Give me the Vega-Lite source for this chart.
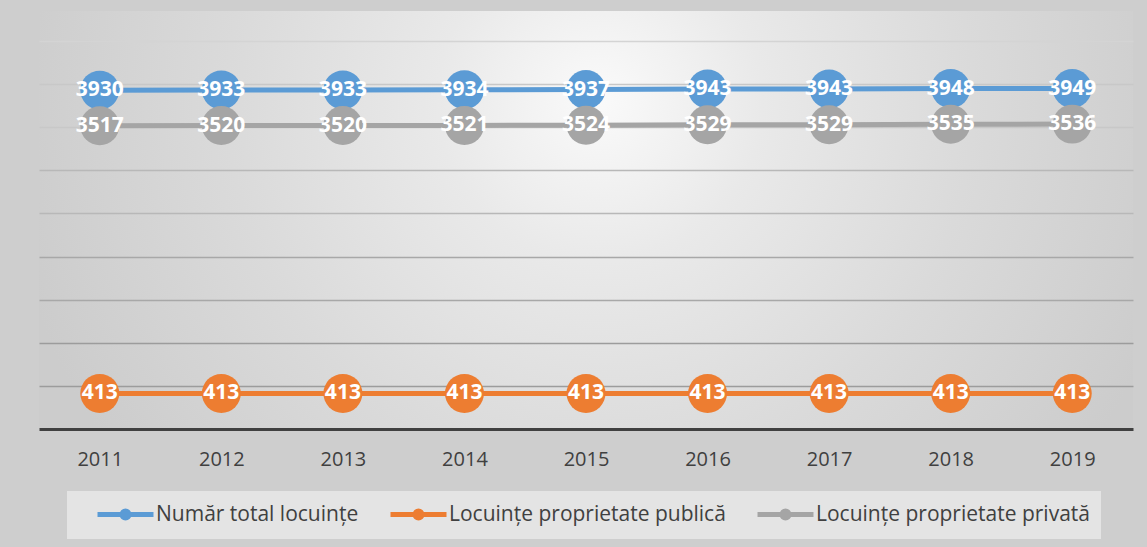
{
  "$schema": "https://vega.github.io/schema/vega-lite/v6.json",
  "width": 1094,
  "height": 418,
  "autosize": {"type": "none"},
  "padding": {"left": 39, "top": 11, "right": 14, "bottom": 118},
  "background": "#cecece",
  "config": {
    "font": "Open Sans",
    "view": {
      "stroke": null,
      "fill": {
        "gradient": "radial",
        "x1": 0.513, "y1": 0.39, "r1": 0,
        "x2": 0.513, "y2": 0.39, "r2": 0.55,
        "stops": [
          {"offset": 0, "color": "#fafafa"},
          {"offset": 0.27, "color": "#e9e9e9"},
          {"offset": 0.62, "color": "#dadada"},
          {"offset": 1, "color": "#cccccc"}
        ]
      }
    }
  },
  "data": {
    "values": [
      {"year": "2011", "series": "Număr total locuințe", "value": 3930},
      {"year": "2012", "series": "Număr total locuințe", "value": 3933},
      {"year": "2013", "series": "Număr total locuințe", "value": 3933},
      {"year": "2014", "series": "Număr total locuințe", "value": 3934},
      {"year": "2015", "series": "Număr total locuințe", "value": 3937},
      {"year": "2016", "series": "Număr total locuințe", "value": 3943},
      {"year": "2017", "series": "Număr total locuințe", "value": 3943},
      {"year": "2018", "series": "Număr total locuințe", "value": 3948},
      {"year": "2019", "series": "Număr total locuințe", "value": 3949},
      {"year": "2011", "series": "Locuințe proprietate publică", "value": 413},
      {"year": "2012", "series": "Locuințe proprietate publică", "value": 413},
      {"year": "2013", "series": "Locuințe proprietate publică", "value": 413},
      {"year": "2014", "series": "Locuințe proprietate publică", "value": 413},
      {"year": "2015", "series": "Locuințe proprietate publică", "value": 413},
      {"year": "2016", "series": "Locuințe proprietate publică", "value": 413},
      {"year": "2017", "series": "Locuințe proprietate publică", "value": 413},
      {"year": "2018", "series": "Locuințe proprietate publică", "value": 413},
      {"year": "2019", "series": "Locuințe proprietate publică", "value": 413},
      {"year": "2011", "series": "Locuințe proprietate privată", "value": 3517},
      {"year": "2012", "series": "Locuințe proprietate privată", "value": 3520},
      {"year": "2013", "series": "Locuințe proprietate privată", "value": 3520},
      {"year": "2014", "series": "Locuințe proprietate privată", "value": 3521},
      {"year": "2015", "series": "Locuințe proprietate privată", "value": 3524},
      {"year": "2016", "series": "Locuințe proprietate privată", "value": 3529},
      {"year": "2017", "series": "Locuințe proprietate privată", "value": 3529},
      {"year": "2018", "series": "Locuințe proprietate privată", "value": 3535},
      {"year": "2019", "series": "Locuințe proprietate privată", "value": 3536}
    ]
  },
  "encoding": {
    "x": {
      "field": "year",
      "type": "ordinal",
      "title": null,
      "axis": {
        "labelAngle": 0,
        "labelFontSize": 20,
        "labelColor": "#404040",
        "labelPadding": 20,
        "ticks": false,
        "domainColor": "#404040",
        "domainWidth": 3,
        "grid": false
      }
    },
    "y": {
      "field": "value",
      "type": "quantitative",
      "title": null,
      "scale": {"domain": [0, 4848], "nice": false},
      "axis": {
        "values": [500, 1000, 1500, 2000, 2500, 3000, 3500, 4000, 4500],
        "labels": false,
        "ticks": false,
        "domain": false,
        "grid": true,
        "gridWidth": 1.5,
        "gridColor": {
          "condition": [
            {"test": "datum.value <= 1000", "value": "#9c9c9c"},
            {"test": "datum.value <= 2000", "value": "#a8a8a8"},
            {"test": "datum.value <= 3000", "value": "#b8b8b8"},
            {"test": "datum.value <= 4000", "value": "#c8c8c8"}
          ],
          "value": "#d4d4d4"
        }
      }
    },
    "color": {
      "field": "series",
      "type": "nominal",
      "scale": {
        "domain": ["Număr total locuințe", "Locuințe proprietate publică", "Locuințe proprietate privată"],
        "range": ["#5B9BD5", "#ED7D31", "#A5A5A5"]
      },
      "legend": {
        "title": null,
        "orient": "none",
        "legendX": 28,
        "legendY": 480,
        "direction": "horizontal",
        "fillColor": "#e4e4e4",
        "padding": 11,
        "labelFontSize": 21,
        "labelLimit": 600,
        "labelColor": "#404040",
        "labelOffset": 53,
        "columnPadding": 12,
        "symbolType": "M0.7,0H6.3M3.85,0A0.35,0.35,0,1,1,3.15,0A0.35,0.35,0,1,1,3.85,0Z",
        "symbolSize": 400,
        "symbolStrokeWidth": 5,
        "encode": {
          "symbols": {
            "update": {
              "fill": {"scale": "color", "field": "value"},
              "stroke": {"scale": "color", "field": "value"},
              "opacity": {"value": 1}
            }
          }
        }
      }
    }
  },
  "layer": [
    {"mark": {"type": "line", "strokeWidth": 5}},
    {"mark": {"type": "circle", "size": 1520, "opacity": 1}},
    {
      "mark": {"type": "text", "fontWeight": "bold", "fontSize": 21, "baseline": "middle", "align": "center"},
      "encoding": {
        "text": {"field": "value", "type": "quantitative", "format": "d"},
        "color": {"value": "white"}
      }
    }
  ]
}
